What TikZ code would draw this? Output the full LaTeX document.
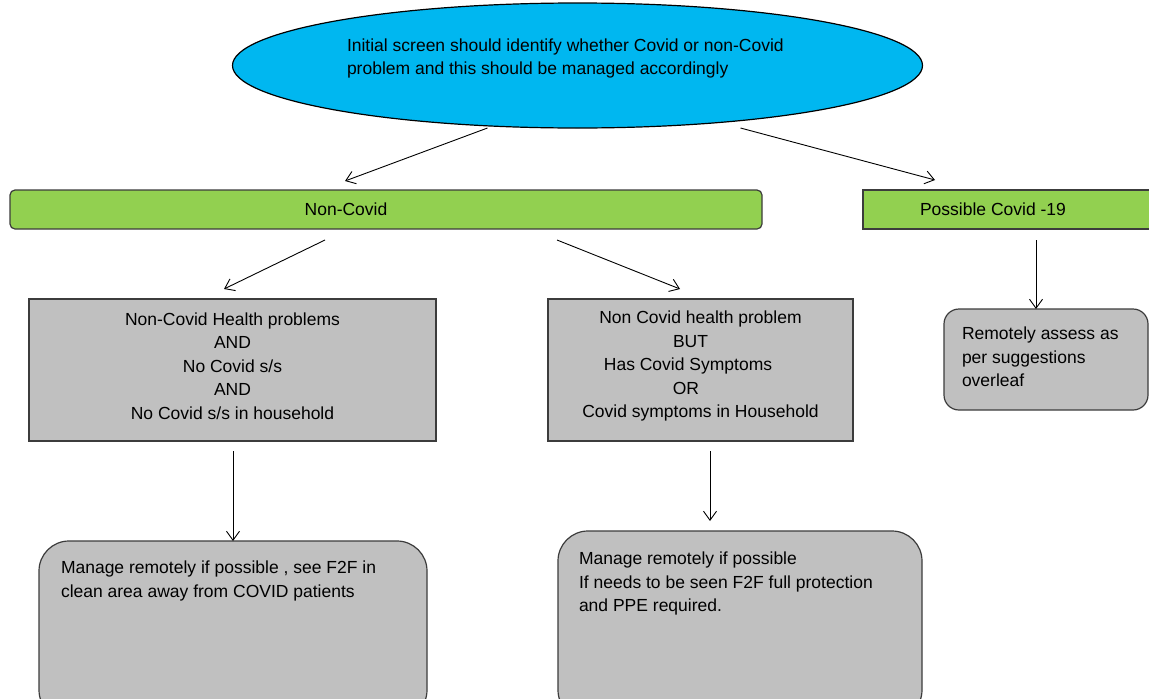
\documentclass[tikz,border=0pt]{standalone}
\usepackage{fontspec}
\setmainfont{Liberation Sans}
\usetikzlibrary{shapes.geometric,arrows.meta}
\definecolor{skyfill}{RGB}{0,183,240}
\definecolor{barfill}{RGB}{146,208,80}
\definecolor{boxfill}{RGB}{192,192,192}
\definecolor{edgegray}{RGB}{60,60,60}
\newcommand{\padright}[1]{\hspace*{#1}\mbox{}}
\begin{document}
\begin{tikzpicture}[x=1pt,y=-1pt,
  every node/.style={font=\fontsize{17.5}{23.5}\selectfont, inner sep=0pt, outer sep=0pt},
  bar/.style={draw=edgegray, line width=1.2pt, fill=barfill, minimum height=39pt},
  panel/.style={draw=edgegray, line width=1.2pt, fill=boxfill},
  arr/.style={draw=black, line width=0.9pt, -{Straight Barb[length=9pt,width=13pt]}},
  txt/.style={align=left, inner sep=0pt}
]
\useasboundingbox (0,0) rectangle (1149,699);
\fill[white] (0,0) rectangle (1149,699);

% top ellipse
\node[ellipse, draw=black, line width=1.2pt, fill=skyfill,
      minimum width=690pt, minimum height=125pt,
      label={[txt, anchor=west, xshift=114.5pt, yshift=7pt]west:{Initial screen should identify whether Covid or non-Covid\\problem and this should be managed accordingly}}]
      (ell) at (577.5,65.5) {};

% green bars
\node[bar, rounded corners=5pt, minimum width=752pt,
      label={[xshift=-40pt]center:Non-Covid}] (nc) at (386,209.5) {};
\node[bar, minimum width=300pt,
      label={[xshift=-20pt]center:Possible Covid -19}] (pc) at (1013,209.5) {};

% condition boxes
\node[panel, minimum width=407pt, minimum height=142pt,
      label={[align=center, yshift=4pt]center:{Non-Covid Health problems\\AND\\No Covid s/s\\AND\\No Covid s/s in household}}]
      (b1) at (232.5,370) {};
\node[panel, minimum width=305pt, minimum height=142pt,
      label={[align=center, yshift=4pt]center:{Non Covid health problem\\BUT\padright{20pt}\\Has Covid Symptoms\padright{25pt}\\OR\padright{29pt}\\Covid symptoms in Household}}]
      (b2) at (700.5,370) {};

% action boxes
\node[panel, rounded corners=15pt, minimum width=204pt, minimum height=101pt,
      label={[txt, anchor=north west, xshift=18pt, yshift=-18pt]north west:{Remotely assess as\\per suggestions\\overleaf}}]
      (b3) at (1046,359.5) {};
\node[panel, rounded corners=30pt, minimum width=388pt, minimum height=179pt,
      label={[txt, anchor=north west, xshift=22pt, yshift=-20pt]north west:{Manage remotely if possible , see F2F in\\clean area away from COVID patients}}]
      (m1) at (233,630.5) {};
\node[panel, rounded corners=30pt, minimum width=364pt, minimum height=189pt,
      label={[txt, anchor=north west, xshift=21pt, yshift=-21pt]north west:{Manage remotely if possible\\If needs to be seen F2F full protection\\and PPE required.}}]
      (m2) at (740,625.5) {};

% connectors
\draw[arr] ([xshift=-90pt]ell.south) -- ([xshift=-41pt,yshift=9pt]nc.north);
\draw[arr] ([xshift=163pt]ell.south) -- ([xshift=-78pt,yshift=10pt]pc.north);
\draw[arr] ([xshift=-61pt,yshift=-11pt]nc.south) -- ([xshift=-8.5pt,yshift=10pt]b1.north);
\draw[arr] ([xshift=171pt,yshift=-11pt]nc.south) -- ([xshift=-20.5pt,yshift=10pt]b2.north);
\draw[arr] ([xshift=23pt,yshift=-11pt]pc.south) -- ([xshift=-10pt]b3.north);
\draw[arr] ([xshift=0.5pt,yshift=-10pt]b1.south) -- (m1.north);
\draw[arr] ([xshift=9.5pt,yshift=-10pt]b2.south) -- ([xshift=-30pt,yshift=10pt]m2.north);
\end{tikzpicture}
\end{document}
